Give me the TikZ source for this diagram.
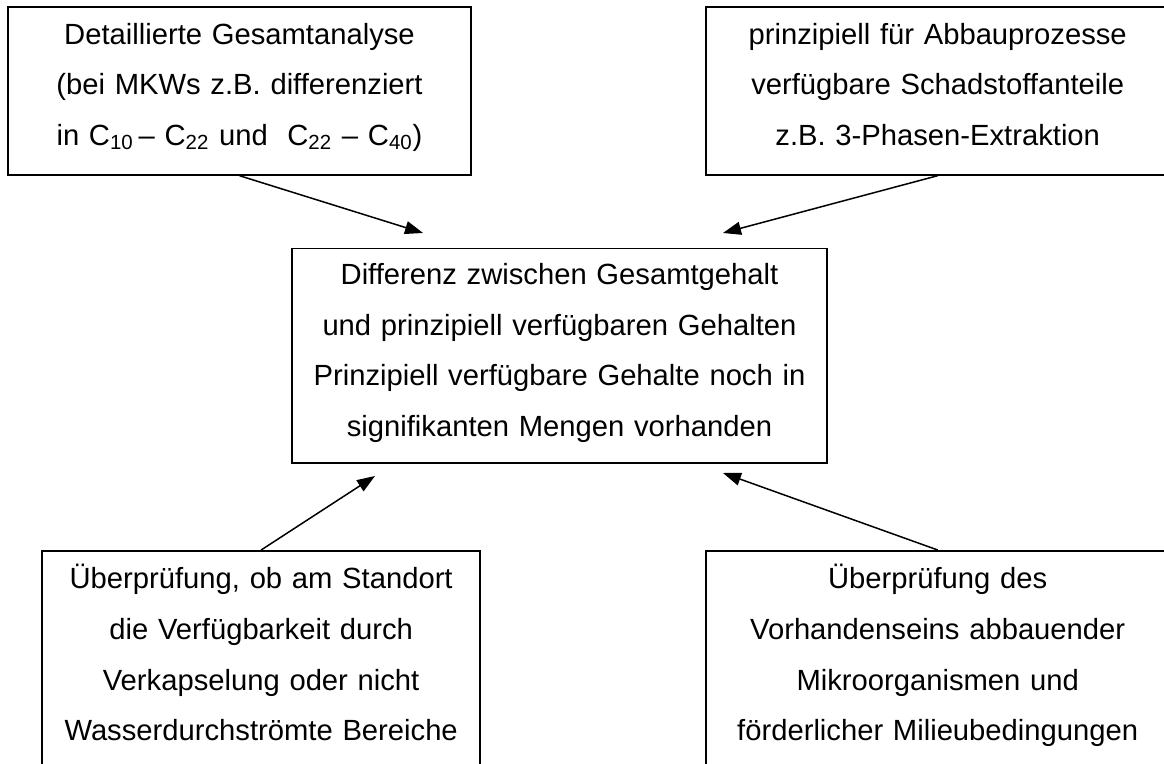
\documentclass[tikz,border=0pt]{standalone}
\usepackage{fontspec}
\setmainfont{Liberation Sans}
\usetikzlibrary{arrows.meta}
\newcommand{\topgap}[1]{\rule{0pt}{#1}}
\newcommand{\botgap}[1]{\rule[-#1]{0pt}{0pt}}
\begin{document}
\begin{tikzpicture}[x=0.5pt,y=-0.5pt,
  box/.style={draw,line width=0.85pt,rectangle,inner sep=0pt,align=center,anchor=north,
    font=\fontsize{14.6}{25.3}\selectfont},
  arr/.style={-{Triangle[length=9pt,width=6.5pt]},line width=0.75pt}]
\useasboundingbox (0,0) rectangle (1164,764);
\clip (0,0) rectangle (1164,764);
\fill[white] (0,0) rectangle (1164,764);
\node[box,text width=231.5pt] (tl) at (239.5,6)
  {\topgap{18.75pt}Detaillierte Gesamtanalyse\\(bei MKWs z.B. differenziert\\in C\textsubscript{10}\,– C\textsubscript{22} und\ \ C\textsubscript{22} – C\textsubscript{40})\botgap{14.65pt}};
\node[box,text width=232pt] (tr) at (937.7,6)
  {\topgap{18.75pt}prinzipiell für Abbauprozesse\\verfügbare Schadstoffanteile\\z.B. 3-Phasen-Extraktion\botgap{14.65pt}};
\node[box,text width=267.5pt] (c) at (559.5,247.7)
  {\topgap{18.05pt}Differenz zwischen Gesamtgehalt\\und prinzipiell verfügbaren Gehalten\\Prinzipiell verfügbare Gehalte noch in\\signifikanten Mengen vorhanden\botgap{13.35pt}};
\node[box,text width=218.85pt] (bl) at (261.15,550)
  {\topgap{19pt}Überprüfung, ob am Standort\\die Verfügbarkeit durch\\Verkapselung oder nicht\\Wasserdurchströmte Bereiche\botgap{20pt}};
\node[box,text width=232pt] (br) at (937.7,550)
  {\topgap{19pt}Überprüfung des\\Vorhandenseins abbauender\\Mikroorganismen und\\förderlicher Milieubedingungen\botgap{20pt}};
\coordinate (tA) at (423,233);
\coordinate (tB) at (723,233);
\coordinate (tC) at (375,476);
\coordinate (tD) at (723,473);
\draw[arr] (tl.south) -- (tA);
\draw[arr] (tr.south) -- (tB);
\draw[arr] (bl.north) -- (tC);
\draw[arr] (br.north) -- (tD);
\end{tikzpicture}
\end{document}
